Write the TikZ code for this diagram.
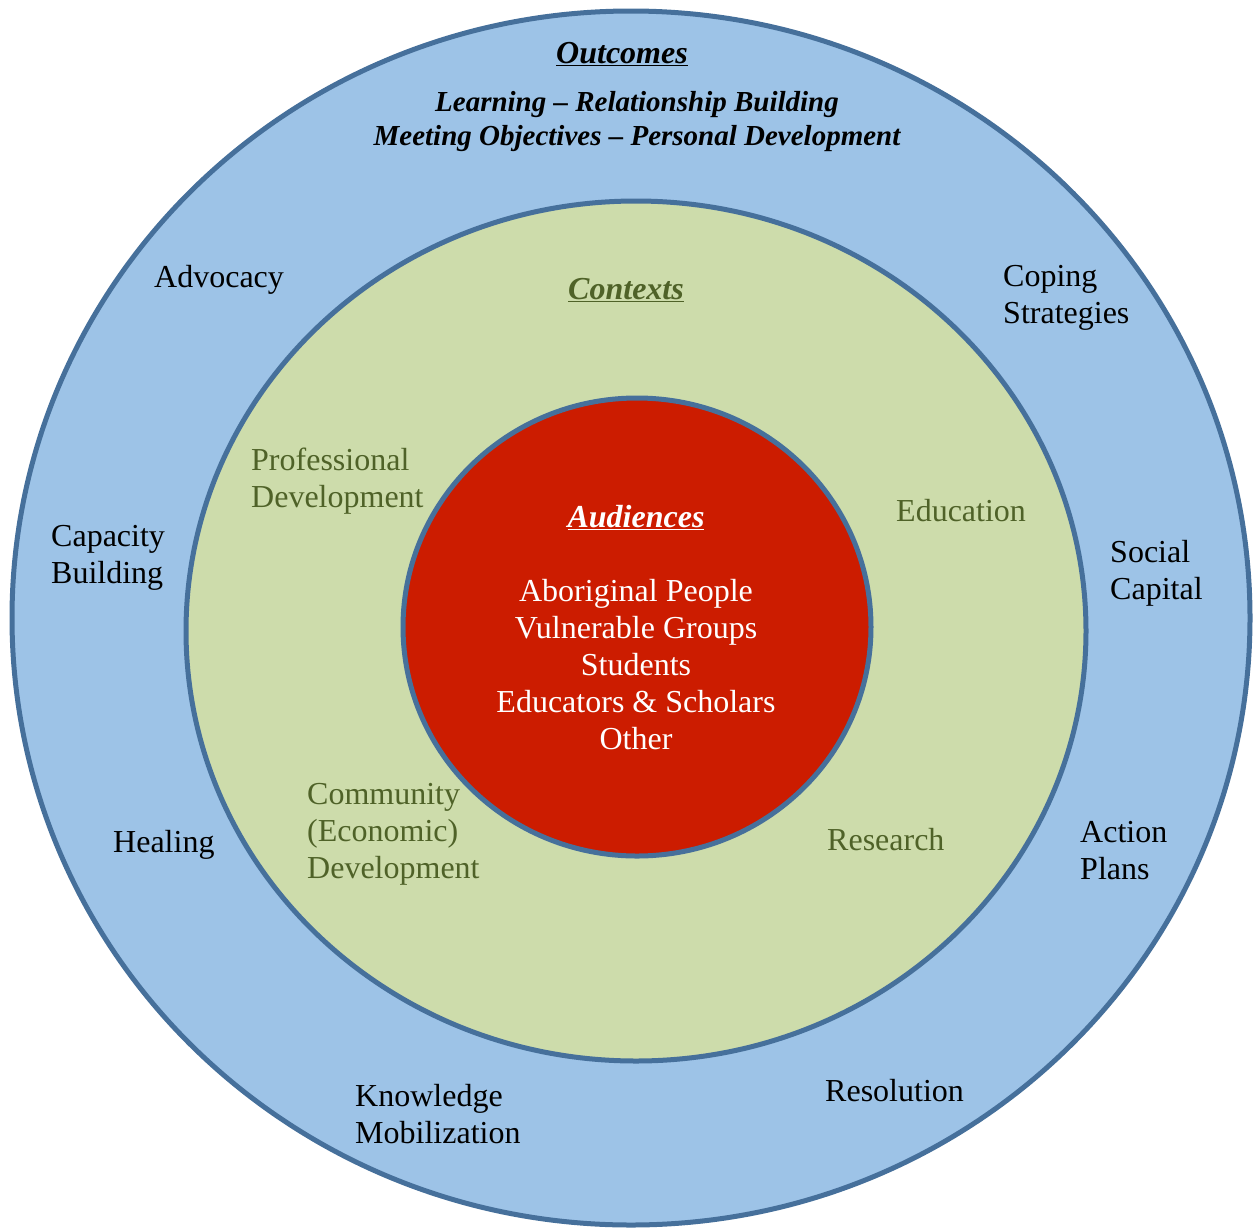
\documentclass[tikz,border=0pt]{standalone}
\usepackage{fontspec}
\setmainfont{Liberation Serif}
\usetikzlibrary{shapes.geometric}

\definecolor{ringline}{RGB}{70,112,155}
\definecolor{outerfill}{RGB}{157,195,231}
\definecolor{midfill}{RGB}{205,220,171}
\definecolor{corefill}{RGB}{204,28,0}
\definecolor{olivetext}{RGB}{79,98,40}

\begin{document}
\begin{tikzpicture}[x=1pt,y=-1pt,
  ring/.style={ellipse, draw=ringline, line width=5pt, inner sep=0pt},
  lbl/.style={inner sep=0pt, align=left, font=\fontsize{32}{37}\selectfont},
  ctx/.style={lbl, text=olivetext},
  aud/.style={inner sep=0pt, align=center, text=white, font=\fontsize{32}{37}\selectfont},
  headline/.style={inner sep=0pt, align=center, font=\fontsize{32}{36}\selectfont\bfseries\itshape}]
\useasboundingbox (0,0) rectangle (1255,1229);

% three nested rings
\node[ring, fill=outerfill, minimum width=1238pt, minimum height=1214pt] (outer) at (631,618) {};
\node[ring, fill=midfill, minimum width=900pt, minimum height=860pt] (middle) at (636,631) {};
\node[ring, fill=corefill, minimum width=468pt, minimum height=458pt] (core) at (637,627) {};

% outcomes (outer ring)
\node[headline] (outtitle) at (622,54) {\underline{Outcomes}};
\node[headline, font=\fontsize{29}{34}\selectfont\bfseries\itshape] (outlist) at (637,122)
  {Learning -- Relationship Building\\Meeting Objectives -- Personal Development};
\node[lbl, anchor=west] (advocacy) at (154,280) {Advocacy};
\node[lbl, anchor=west] (coping) at (1003,298) {Coping\\Strategies};
\node[lbl, anchor=west] (capacity) at (51,558) {Capacity\\Building};
\node[lbl, anchor=west] (social) at (1110,573) {Social\\Capital};
\node[lbl, anchor=west] (healing) at (113,845) {Healing};
\node[lbl, anchor=west] (action) at (1080,851) {Action\\Plans};
\node[lbl, anchor=west] (knowledge) at (355,1114) {Knowledge\\Mobilization};
\node[lbl, anchor=west] (resolution) at (825,1091) {Resolution};

% contexts (middle ring)
\node[headline, text=olivetext] (ctxtitle) at (626,290) {\underline{Contexts}};
\node[ctx, anchor=west] (profdev) at (251,481) {Professional\\Development};
\node[ctx, anchor=west] (education) at (896,511) {Education};
\node[ctx, anchor=west] (community) at (307,834) {Community\\(Economic)\\Development};
\node[ctx, anchor=west] (research) at (827,840) {Research};

% audiences (core)
\node[headline, text=white] (audtitle) at (636,518) {\underline{Audiences}};
\node[aud] (audlist) at (636,665)
  {Aboriginal People\\Vulnerable Groups\\Students\\Educators \& Scholars\\Other};
\end{tikzpicture}
\end{document}
